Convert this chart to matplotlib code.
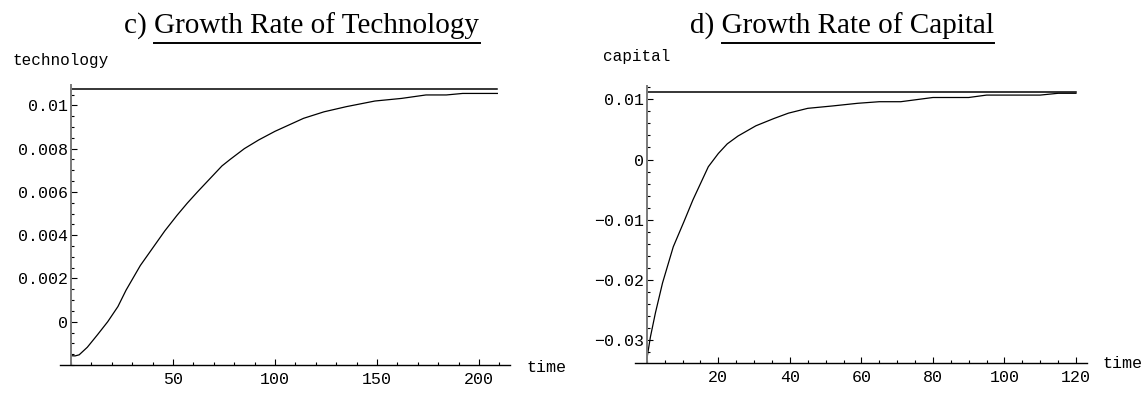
import numpy as np
import matplotlib.pyplot as plt
from matplotlib.ticker import FixedLocator, MultipleLocator
from matplotlib.lines import Line2D

# c) growth rate of technology
tech_t = [0, 2, 4, 8, 13, 18, 23, 27, 34, 40, 46, 52, 57, 62, 66, 70, 74, 78,
          85, 92, 100, 107, 114, 124, 135, 149, 162, 174, 184, 192, 200, 209]
tech_g = [-0.00157, -0.00158, -0.00153, -0.00118, -0.0006, 0.0, 0.0007, 0.00146,
          0.0026, 0.0034, 0.0042, 0.00492, 0.00548, 0.0060, 0.0064, 0.0068,
          0.0072, 0.0075, 0.0080, 0.0084, 0.0088, 0.0091, 0.0094, 0.0097,
          0.00994, 0.0102, 0.01032, 0.01048, 0.01048, 0.01055, 0.01055, 0.01055]
tech_limit = 0.01074

# d) growth rate of capital
cap_t = [0, 1, 2.4, 4.4, 7.4, 10.4, 12.9, 17.2, 20, 22.5, 25.5, 30.5, 35.5, 39.6,
         45, 52, 59, 65, 71, 80, 90, 95, 110, 115, 120]
cap_g = [-0.0332, -0.0295, -0.0255, -0.0205, -0.0145, -0.0103, -0.0067, -0.0012,
         0.0010, 0.0026, 0.0039, 0.0056, 0.0068, 0.0077, 0.0085, 0.0089, 0.00934,
         0.0096, 0.0096, 0.0103, 0.0103, 0.0107, 0.0107, 0.0110, 0.0110]
cap_limit = 0.01126

tech_yticks = [0, 0.002, 0.004, 0.006, 0.008, 0.01]
tech_ylabels = ['0', '0.002', '0.004', '0.006', '0.008', '0.01']
tech_xticks = [50, 100, 150, 200]
cap_yticks = [-0.03, -0.02, -0.01, 0, 0.01]
cap_ylabels = ['\u22120.03', '\u22120.02', '\u22120.01', '0', '0.01']
cap_xticks = [20, 40, 60, 80, 100, 120]

W, H = 1147, 397
fig = plt.figure(figsize=(W / 100, H / 100), dpi=100)
mono = 'Liberation Mono'
serif = 'Liberation Serif'


def px_axes(x0, x1, ytop, ybot):
    return fig.add_axes([x0 / W, (H - ybot) / H, (x1 - x0) / W, (ybot - ytop) / H])


def style(ax, yticks, ylabels, xticks, xminor, yminor):
    for s in ['top', 'right']:
        ax.spines[s].set_visible(False)
    ax.spines['left'].set_position(('data', 0))
    ax.spines['left'].set_color('#7a7a7a')
    ax.spines['left'].set_linewidth(1.4)
    ax.spines['bottom'].set_linewidth(1.0)
    ax.yaxis.set_major_locator(FixedLocator(yticks))
    ax.set_yticklabels(ylabels)
    ax.xaxis.set_major_locator(FixedLocator(xticks))
    ax.xaxis.set_minor_locator(MultipleLocator(xminor))
    ax.yaxis.set_minor_locator(MultipleLocator(yminor))
    ax.tick_params(which='both', direction='in', width=0.8, pad=2)
    ax.tick_params(which='major', length=4)
    ax.tick_params(which='minor', length=2)
    ax.tick_params(axis='x', pad=5)
    for lab in ax.get_xticklabels() + ax.get_yticklabels():
        lab.set_fontfamily(mono)
        lab.set_fontsize(12)


# left panel
ax1 = px_axes(60, 510, 85, 365)
ax1.plot(tech_t, tech_g, color='black', lw=0.9)
ax1.plot([tech_t[0], tech_t[-1]], [tech_limit, tech_limit], color='black', lw=1.1)
ax1.set_xlim(-5.39, 215.2)
ax1.set_ylim(-0.0020, 0.01094)
style(ax1, tech_yticks, tech_ylabels, tech_xticks, 10, 0.0005)

# right panel
ax2 = px_axes(635, 1086.7, 86, 363.3)
ax2.plot(cap_t, cap_g, color='black', lw=0.9)
ax2.plot([cap_t[0], cap_t[-1]], [cap_limit, cap_limit], color='black', lw=1.1)
ax2.set_xlim(-3.3, 123.0)
ax2.set_ylim(-0.03385, 0.01221)
style(ax2, cap_yticks, cap_ylabels, cap_xticks, 5, 0.002)


def ftext(x, y, s, **kw):
    return fig.text(x / W, (H - y) / H, s, **kw)


ftext(12, 60, 'technology', family=mono, fontsize=11.5, va='center', ha='left')
ftext(527, 367, 'time', family=mono, fontsize=12, va='center', ha='left')
ftext(603, 57, 'capital', family=mono, fontsize=11.5, va='center', ha='left')
ftext(1103, 363, 'time', family=mono, fontsize=12, va='center', ha='left')

# titles with underlined part
titles = [(302, 'c) ', 'Growth Rate of Technology'), (842, 'd) ', 'Growth Rate of Capital')]
fig.canvas.draw()
rend = fig.canvas.get_renderer()
for cx, pre, main in titles:
    full = ftext(cx, 33.5, pre + main, family=serif, fontsize=21, ha='center', va='baseline')
    probe = ftext(0, 33.5, main, family=serif, fontsize=21, ha='left', va='baseline')
    bb_full = full.get_window_extent(rend)
    bb_main = probe.get_window_extent(rend)
    probe.remove()
    x1 = bb_full.x1
    x0 = x1 - bb_main.width
    uy = (H - 42.5) / H
    fig.add_artist(Line2D([x0 / W, x1 / W], [uy, uy], color='black', lw=1.4,
                          transform=fig.transFigure))

fig.savefig('out.png', dpi=100)
